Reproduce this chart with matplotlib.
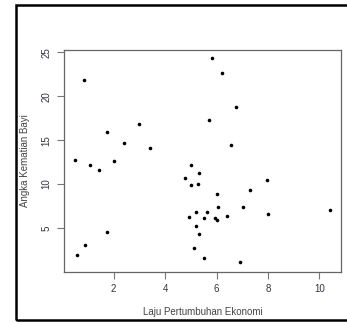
import matplotlib
matplotlib.use('Agg')
import matplotlib.pyplot as plt
from matplotlib.patches import Rectangle

# laju pertumbuhan ekonomi (%) vs angka kematian bayi
laju = [0.49, 0.86, 0.58, 0.88, 1.10, 1.43, 1.73, 1.73, 2.00, 2.41,
        2.98, 3.42, 4.76, 5.01, 5.02, 5.30, 5.28, 4.93, 5.19, 5.19,
        5.30, 5.12, 5.51, 5.50, 5.64, 5.69, 5.81, 6.21, 6.02, 6.07,
        5.94, 6.01, 6.39, 6.55, 6.76, 7.03, 6.93, 7.30, 7.96, 7.99,
        10.41]
akb = [12.69, 21.90, 1.89, 3.10, 12.12, 11.55, 15.95, 4.50, 12.58, 14.70,
       16.80, 14.10, 10.68, 12.12, 9.85, 11.25, 10.04, 6.25, 6.86, 5.23,
       4.36, 2.69, 1.63, 6.10, 6.78, 17.27, 24.32, 22.69, 8.90, 7.42,
       6.14, 5.95, 6.33, 14.50, 18.75, 7.42, 1.17, 9.36, 10.42, 6.55,
       7.00]
xticks = [2, 4, 6, 8, 10]
yticks = [5, 10, 15, 20, 25]

W, H = 347, 323
fig = plt.figure(figsize=(W / 100, H / 100), dpi=100)
plt.rcParams['font.family'] = ['Liberation Sans', 'DejaVu Sans']

# black frame around the whole panel
fig.patches.append(Rectangle((16 / W, 3 / H), (W + 5 - 16) / W, (H - 5 - 3) / H,
                             transform=fig.transFigure, fill=False,
                             edgecolor='black', linewidth=1.8))

ax = fig.add_axes([64 / W, (H - 272) / H, (341 - 64) / W, (272 - 50) / H])
ax.plot(laju, akb, 'o', color='black', markersize=2.6, markeredgewidth=0)

ax.set_xlim(0.07, 10.84)
ax.set_ylim(0.0, 25.26)
ax.set_xticks(xticks)
ax.set_yticks(yticks)
ax.set_yticklabels([str(t) for t in yticks], rotation=90, va='center')

for s in ax.spines.values():
    s.set_color('#666666')
    s.set_linewidth(0.9)
ax.tick_params(direction='out', length=5, width=0.8, color='#777777',
               labelsize=7, labelcolor='#333344', pad=4)

ax.set_xlabel('Laju Pertumbuhan Ekonomi', fontsize=7, color='#444444', labelpad=9)
ax.set_ylabel('Angka Kematian Bayi', fontsize=7, color='#444444', labelpad=8)

fig.savefig('out.png', dpi=100)
